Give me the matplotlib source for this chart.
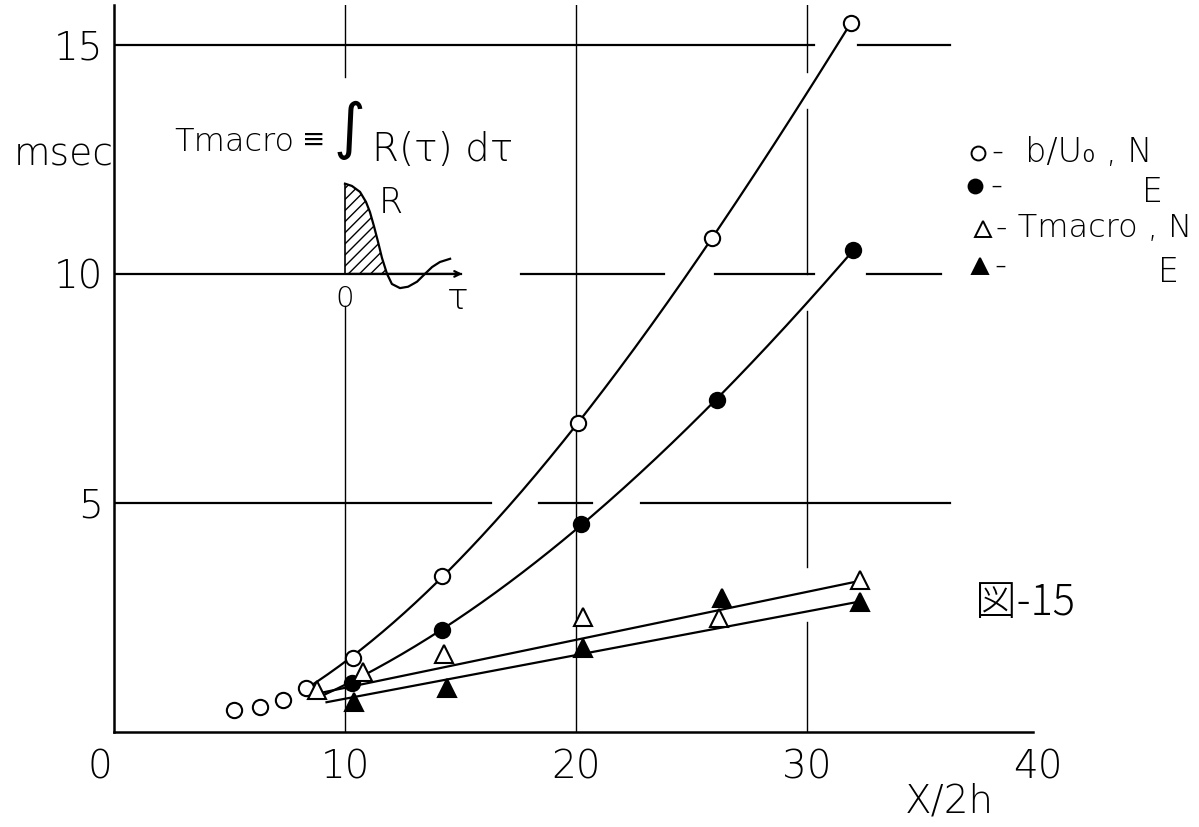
import numpy as np
import matplotlib
matplotlib.use("Agg")
import matplotlib.pyplot as plt
from matplotlib.transforms import ScaledTranslation

plt.rcParams['font.family'] = ['DejaVu Sans']

# b/Uo, N  (open circles)
bu_n_x = [5.2, 6.3, 7.3, 8.3, 10.35, 14.2, 20.1, 25.9, 31.9]
bu_n_y = [0.48, 0.55, 0.70, 0.96, 1.62, 3.41, 6.75, 10.79, 15.48]
# b/Uo, E  (filled circles)
bu_e_x = [10.3, 14.2, 20.2, 26.1, 32.0]
bu_e_y = [1.07, 2.23, 4.54, 7.25, 10.52]
# Tmacro, N  (open triangles)
tm_n_x = [8.8, 10.8, 14.3, 20.3, 26.2, 32.3]
tm_n_y = [0.92, 1.31, 1.70, 2.51, 2.49, 3.32]
# Tmacro, E  (filled triangles)
tm_e_x = [10.4, 14.4, 20.3, 26.3, 32.3]
tm_e_y = [0.65, 0.96, 1.83, 2.93, 2.84]
# hand drawn straight lines through the triangles
tm_n_line_x = [9.1, 32.3]
tm_n_line_y = [0.87, 3.30]
tm_e_line_x = [9.2, 32.3]
tm_e_line_y = [0.65, 2.85]

# sketch of R(tau) in the inset
tau = [0.0, 0.30, 0.65, 0.91, 1.08, 1.26, 1.43, 1.60, 1.82, 2.03, 2.38,
       2.73, 3.12, 3.46, 3.77, 4.11, 4.55]
R = [1.97, 1.92, 1.79, 1.57, 1.35, 1.03, 0.70, 0.35, 0.0, -0.22, -0.31,
     -0.28, -0.17, 0.0, 0.15, 0.26, 0.33]

x_ticks = [0, 10, 20, 30, 40]
y_ticks = [5, 10, 15]

W, H = 1199, 827
fig = plt.figure(figsize=(W / 100, H / 100), dpi=100)
ax = fig.add_axes([114 / W, (H - 732) / H, 924 / W, 727 / H])
ax.set_xlim(0, 40)
ax.set_ylim(0, 15.87)

for s in ['top', 'right']:
    ax.spines[s].set_visible(False)
ax.spines['left'].set_linewidth(1.8)
ax.spines['bottom'].set_linewidth(1.8)
ax.spines['bottom'].set_bounds(0, 39.8)

lab_font = dict(family=['DejaVu Sans'], fontweight='light', fontsize=28)
ax.set_xticks(x_ticks)
ax.set_xticklabels([str(v) for v in x_ticks], **lab_font)
ax.set_yticks(y_ticks)
ax.set_yticklabels([str(v) for v in y_ticks], **lab_font)
ax.tick_params(axis='x', length=0, pad=12)
ax.tick_params(axis='y', length=0, pad=8)
lbl0 = ax.get_xticklabels()[0]
lbl0.set_transform(lbl0.get_transform() + ScaledTranslation(-0.14, 0, fig.dpi_scale_trans))

# broken grid lines, as drawn by hand
gk = dict(color='black', lw=1.6, zorder=1)
for y0, segs in [(15, [(0, 30.3), (32.2, 36.2)]),
                 (10, [(0, 15.0), (17.6, 23.8), (26.0, 30.3), (32.6, 35.8)]),
                 (5, [(0, 16.3), (18.4, 20.7), (22.8, 36.2)])]:
    for a, b in segs:
        ax.plot([a, b], [y0, y0], **gk)
gv = dict(color='black', lw=1.0, zorder=1)
for x0, segs in [(10, [(0, 9.3), (14.3, 15.9)]),
                 (20, [(0, 15.9)]),
                 (30, [(0, 2.4), (3.6, 9.2), (10.0, 13.6), (14.4, 15.9)])]:
    for a, b in segs:
        ax.plot([x0, x0], [a, b], **gv)

# curves through the circles
p_n = np.polyfit(bu_n_x[3:], bu_n_y[3:], 3)
xs = np.linspace(bu_n_x[3], bu_n_x[-1], 200)
ax.plot(xs, np.polyval(p_n, xs), color='black', lw=1.6, zorder=2)
p_e = np.polyfit([9.0] + bu_e_x, [0.82] + bu_e_y, 3)
xs = np.linspace(9.0, bu_e_x[-1], 200)
ax.plot(xs, np.polyval(p_e, xs), color='black', lw=1.6, zorder=2)
ax.plot(tm_n_line_x, tm_n_line_y, color='black', lw=1.6, zorder=2)
ax.plot(tm_e_line_x, tm_e_line_y, color='black', lw=1.6, zorder=2)

mk = dict(ls='none', mec='black', mew=1.5, zorder=3, clip_on=False)
ax.plot(bu_n_x, bu_n_y, marker='o', ms=11, mfc='white', **mk)
ax.plot(bu_e_x, bu_e_y, marker='o', ms=11, mfc='black', **mk)
ax.plot(tm_n_x, tm_n_y, marker='^', ms=13, mfc='white', **mk)
ax.plot(tm_e_x, tm_e_y, marker='^', ms=13, mfc='black', **mk)

# inset sketch of the correlation R(tau)
ox, oy = 10.0, 10.0
tx = ox + np.array(tau)
ry = oy + np.array(R)
ax.plot(tx, ry, color='black', lw=1.6, zorder=2)
ax.plot([ox, ox], [oy, ry[0]], color='black', lw=1.2, zorder=2)
ax.fill_between(tx[:9], oy, ry[:9], facecolor='none', edgecolor='black',
                hatch='///', lw=0, zorder=1)
ax.annotate('', xy=(ox + 5.2, oy), xytext=(ox, oy),
            arrowprops=dict(arrowstyle='->', color='black', lw=1.6))
ax.text(ox, oy - 0.55, '0', ha='center', va='center', fontsize=21, fontweight='light')
ax.text(ox + 4.9, oy - 0.55, 'τ', ha='center', va='center', fontsize=26, fontweight='light')
ax.text(ox + 2.0, oy + 1.55, 'R', ha='center', va='center', fontsize=25, fontweight='light')


def ftext(px, py, s, **kw):
    fig.text(px / W, 1 - py / H, s, **kw)


tk = dict(fontweight='light', va='center', color='black')
ftext(174, 142, 'Tmacro', fontsize=23, **tk)
ftext(302, 140, '≡', fontsize=20, va='center', color='black')
ftext(334, 130, '∫', fontsize=44, va='center', color='black')
ftext(372, 150, 'R(τ) dτ', fontsize=28, **tk)
ftext(14, 155, 'msec', fontsize=27, **tk)
ftext(905, 802, 'X/2h', fontsize=28, **tk)
ftext(975, 603, '図-15', fontsize=30, family=['Noto Sans CJK JP', 'DejaVu Sans'], **tk)

# legend, written beside the chart
lk = dict(transform=fig.transFigure, clip_on=False, ls='none', mec='black', mew=1.4)
ax.plot([978 / W], [1 - 153 / H], marker='o', ms=10, mfc='white', **lk)
ax.plot([975 / W], [1 - 186 / H], marker='o', ms=10, mfc='black', **lk)
ax.plot([983 / W], [1 - 229 / H], marker='^', ms=11, mfc='white', **lk)
ax.plot([980 / W], [1 - 266 / H], marker='^', ms=11, mfc='black', **lk)
ftext(992, 152, '-  b/U₀ , N', fontsize=24, **tk)
ftext(990, 186, '-', fontsize=24, **tk)
ftext(1142, 192, 'E', fontsize=24, **tk)
ftext(996, 228, '- Tmacro , N', fontsize=23, **tk)
ftext(994, 266, '-', fontsize=24, **tk)
ftext(1158, 272, 'E', fontsize=24, **tk)

fig.savefig('out.png', dpi=100)
